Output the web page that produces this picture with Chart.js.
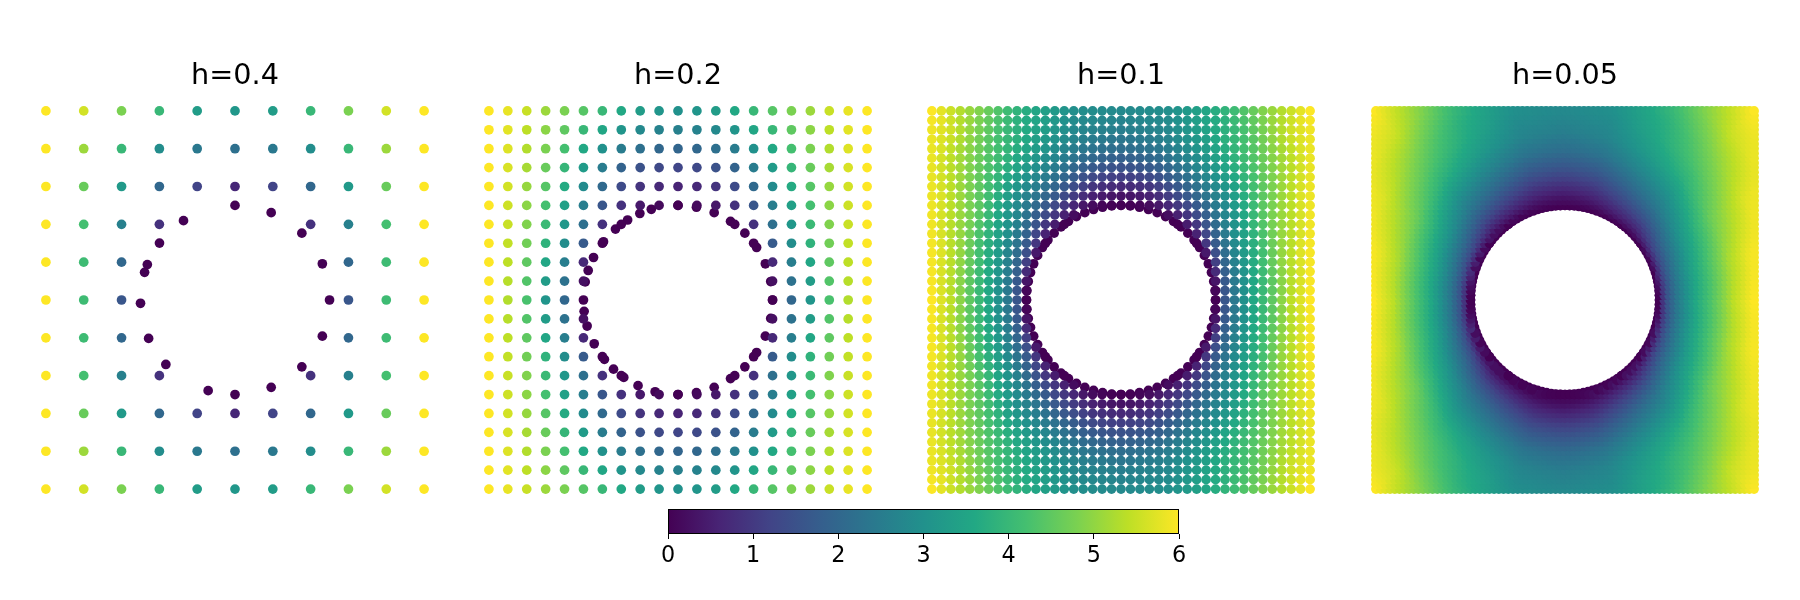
<!DOCTYPE html>
<html>
<head>
<meta charset="utf-8">
<script src="https://cdn.jsdelivr.net/npm/chart.js@4.4.1/dist/chart.umd.min.js"></script>
<style>
  html,body{margin:0;padding:0;background:#fff;}
  #stage{position:relative;width:1800px;height:600px;overflow:hidden;background:#fff;}
  #stage canvas{position:absolute;}
</style>
</head>
<body>
<div id="stage">
  <canvas id="panel0" width="416" height="468" style="left:27px;top:40px"></canvas>
  <canvas id="panel1" width="416" height="468" style="left:470px;top:40px"></canvas>
  <canvas id="panel2" width="416" height="468" style="left:913px;top:40px"></canvas>
  <canvas id="panel3" width="416" height="468" style="left:1357px;top:40px"></canvas>
  <canvas id="cbar" width="580" height="80" style="left:640px;top:500px"></canvas>
</div>
<script>
// panels, one per node spacing
const panelTitles = ['h=0.4', 'h=0.2', 'h=0.1', 'h=0.05'];
const panelSpacing = [0.4, 0.2, 0.1, 0.05];
const domainEdge = 2;      // square [-2,2] x [-2,2]
const holeRadius = 1;      // circle removed from the middle

// colour scale
const colorMin = 0;
const colorMax = 6;
const colorbarTicks = [0, 1, 2, 3, 4, 5, 6];
const viridisStops = ['#440154','#482475','#414487','#355f8d','#2a788e','#21918c','#22a884','#44bf70','#7ad151','#bddf26','#fde725'];

// values, one quadrant (|y| rows from 0 up, |x| columns from 0 out)
// h=0.4 panel, node step 0.4
const valuesH04 = [
  [0,    0,    0,    1.6,  4.1,  6.0],
  [0,    0,    0,    2.0,  4.1,  6.0],
  [0,    0,    0.85, 2.6,  4.2,  6.0],
  [0.65, 1.2,  2.0,  3.2,  4.6,  6.0],
  [2.2,  2.4,  2.9,  4.0,  5.1,  6.0],
  [3.15, 3.3,  4.0,  4.8,  5.6,  6.0]
];
// h=0.2 panel, node step 0.2
const valuesH02 = [
  [0,    0,    0,    0,    0,    0,    2.0,  3.1,  4.25, 5.3,  6.0],
  [0,    0,    0,    0,    0,    0.25, 2.25, 3.3,  4.35, 5.35, 6.0],
  [0,    0,    0,    0,    0,    0.7,  2.55, 3.55, 4.5,  5.4,  6.0],
  [0,    0,    0,    0,    0,    1.7,  2.9,  3.85, 4.7,  5.45, 6.0],
  [0,    0,    0,    0,    0.85, 2.2,  3.15, 4.05, 4.85, 5.5,  6.0],
  [0,    0.15, 0.4,  0.85, 1.6,  2.55, 3.4,  4.2,  4.95, 5.55, 6.0],
  [0.6,  0.7,  0.9,  1.35, 2.05, 2.85, 3.65, 4.4,  5.05, 5.6,  6.0],
  [1.25, 1.3,  1.5,  1.9,  2.5,  3.25, 3.95, 4.6,  5.2,  5.65, 6.0],
  [1.95, 2.0,  2.2,  2.5,  3.0,  3.6,  4.2,  4.8,  5.3,  5.7,  6.0],
  [2.6,  2.65, 2.8,  3.1,  3.55, 4.0,  4.5,  4.95, 5.4,  5.75, 6.0],
  [3.0,  3.1,  3.3,  3.6,  4.0,  4.4,  4.8,  5.1,  5.5,  5.8,  6.0]
];
// h=0.1 and h=0.05 panels: read along rays from the circle (angle from the x axis, radius)
const fineRadii = [1.0, 1.05, 1.1, 1.2, 1.3, 1.4, 1.6, 1.8, 2.0, 2.2, 2.5, 2.9];
const fineAngles = [0, 15, 30, 45, 60, 75, 90];
const fineValues = [
  [0, 0.9,  1.6,  2.4,  3.0,  3.6,  4.5,  5.4,  6.0,  6.4, 6.5, 6.6],
  [0, 0.85, 1.5,  2.3,  2.9,  3.45, 4.35, 5.2,  5.8,  6.2, 6.3, 6.4],
  [0, 0.7,  1.28, 1.98, 2.53, 3.05, 3.9,  4.68, 5.2,  5.7, 6.1, 6.3],
  [0, 0.4,  0.75, 1.4,  1.95, 2.4,  3.1,  3.8,  4.35, 4.8, 5.5, 6.1],
  [0, 0.34, 0.62, 1.13, 1.58, 2.0,  2.7,  3.25, 3.6,  3.8, 4.3, 4.8],
  [0, 0.2,  0.39, 0.8,  1.2,  1.6,  2.28, 2.7,  2.9,  3.1, 3.5, 4.0],
  [0, 0.15, 0.3,  0.7,  1.1,  1.5,  2.15, 2.55, 2.8,  3.0, 3.3, 3.6]
];

// nodes sitting on the circle (value 0), angles in degrees
const boundaryDegH04 = [0, 22.5, 45, 67.5, 90, 123, 143, 158, 163, 182, 204, 223, 253.5, 270, 292.5, 315, 337.5];
const boundaryDegH02 = [0, 11.25, 22.5, 33.75, 45, 56.25, 67.5, 78.75, 90,
  106.4, 113.8, 122.2, 131.4, 142, 153.3, 161.8, 169, 186.9, 196, 207.6, 218.9, 227, 235, 245, 256,
  270, 281.25, 292.5, 303.75, 315, 326.25, 337.5, 348.75];
const boundaryCountFine = [64, 128];
const boundaryValue = 0;

Chart.defaults.font.family = "'DejaVu Sans', sans-serif";
Chart.defaults.color = '#000';

function hexRgb(h){return [1,3,5].map(i=>parseInt(h.substr(i,2),16))}
const viridisRgb = viridisStops.map(hexRgb);

function viridis(v){
  let t=(v-colorMin)/(colorMax-colorMin);
  t=Math.max(0,Math.min(1,t));
  const f=t*(viridisRgb.length-1);
  const i=Math.min(Math.floor(f),viridisRgb.length-2);
  const u=f-i, a=viridisRgb[i], b=viridisRgb[i+1];
  return 'rgb('+a.map((c,k)=>Math.round(c+(b[k]-c)*u)).join(',')+')';
}

// position of v inside a sorted list: [index, fraction]
function locate(list, v){
  if(v<=list[0]) return [0,0];
  for(let i=0;i<list.length-1;i++){
    if(v<=list[i+1]) return [i,(v-list[i])/(list[i+1]-list[i])];
  }
  return [list.length-2,1];
}

function gridValue(table, step, x, y){
  const i=Math.round(Math.abs(x)/step), j=Math.round(Math.abs(y)/step);
  return table[j][i];
}

function rayValue(x, y){
  const r=Math.hypot(x,y), a=Math.atan2(Math.abs(y),Math.abs(x))*180/Math.PI;
  const [ri,rf]=locate(fineRadii,r), [ai,af]=locate(fineAngles,a);
  const lo=fineValues[ai][ri]*(1-rf)+fineValues[ai][ri+1]*rf;
  const hi=fineValues[ai+1][ri]*(1-rf)+fineValues[ai+1][ri+1]*rf;
  return lo*(1-af)+hi*af;
}

function boundaryAngles(idx){
  if(idx===0) return boundaryDegH04;
  if(idx===1) return boundaryDegH02;
  const n=boundaryCountFine[idx-2];
  return Array.from({length:n},(_,k)=>k*360/n);
}

function buildPoints(idx){
  const h=panelSpacing[idx], n=Math.round(2*domainEdge/h);
  const pts=[];
  // circle nodes first, the grid is painted over them
  boundaryAngles(idx).forEach(d=>{
    const a=d*Math.PI/180;
    pts.push({x:holeRadius*Math.cos(a), y:holeRadius*Math.sin(a), v:boundaryValue});
  });
  for(let j=0;j<=n;j++){
    for(let i=0;i<=n;i++){
      const x=-domainEdge+i*h, y=-domainEdge+j*h;
      if(x*x+y*y<holeRadius*holeRadius-1e-9) continue;
      const v = idx===0 ? gridValue(valuesH04,0.4,x,y)
              : idx===1 ? gridValue(valuesH02,0.2,x,y)
              : rayValue(x,y);
      pts.push({x, y, v});
    }
  }
  return pts;
}

function makePanel(idx){
  const pts=buildPoints(idx);
  new Chart(document.getElementById('panel'+idx),{
    type:'scatter',
    data:{datasets:[{
      data:pts.map(p=>({x:p.x,y:p.y})),
      pointBackgroundColor:pts.map(p=>viridis(p.v)),
      pointRadius:4.85, pointHoverRadius:4.85,
      pointBorderWidth:0, borderWidth:0, clip:false
    }]},
    options:{
      responsive:false, animation:false, events:[],
      layout:{padding:0, autoPadding:false},
      scales:{
        x:{type:'linear',min:-2.2,max:2.2,display:false},
        y:{type:'linear',min:-2.2,max:2.2,display:false}
      },
      plugins:{
        legend:{display:false}, tooltip:{enabled:false},
        title:{display:true,text:panelTitles[idx],color:'#000',
          font:{size:28.7,weight:'normal',lineHeight:1.1},
          padding:{top:20.4,bottom:0}}
      }
    }
  });
}

panelTitles.forEach((_,i)=>makePanel(i));

// colour bar
const colorbarFill={
  id:'colorbarFill',
  beforeDraw(chart){
    const {ctx,chartArea:a,scales:{x}}=chart;
    const g=ctx.createLinearGradient(x.getPixelForValue(colorMin),0,x.getPixelForValue(colorMax),0);
    viridisStops.forEach((c,k)=>g.addColorStop(k/(viridisStops.length-1),c));
    ctx.save();
    ctx.fillStyle=g;
    ctx.fillRect(a.left,a.top,a.right-a.left,a.bottom-a.top);
    ctx.strokeStyle='#000'; ctx.lineWidth=1;
    ctx.strokeRect(a.left+0.5,a.top+0.5,a.right-a.left-1,a.bottom-a.top-1);
    ctx.restore();
  }
};

new Chart(document.getElementById('cbar'),{
  type:'scatter',
  data:{datasets:[]},
  options:{
    responsive:false, animation:false, events:[],
    layout:{padding:{left:28,right:41,top:9,bottom:0}, autoPadding:false},
    scales:{
      x:{type:'linear',min:colorMin,max:colorMax,
        afterBuildTicks(s){s.ticks=colorbarTicks.map(v=>({value:v}))},
        afterFit(s){s.height=46},
        grid:{drawOnChartArea:false,drawTicks:true,tickLength:5,color:'#000',lineWidth:1},
        border:{display:false},
        ticks:{color:'#000',font:{size:22.3},padding:3.9,maxRotation:0,autoSkip:false}
      },
      y:{display:false,min:0,max:1}
    },
    plugins:{legend:{display:false},tooltip:{enabled:false}}
  },
  plugins:[colorbarFill]
});
</script>
</body>
</html>
